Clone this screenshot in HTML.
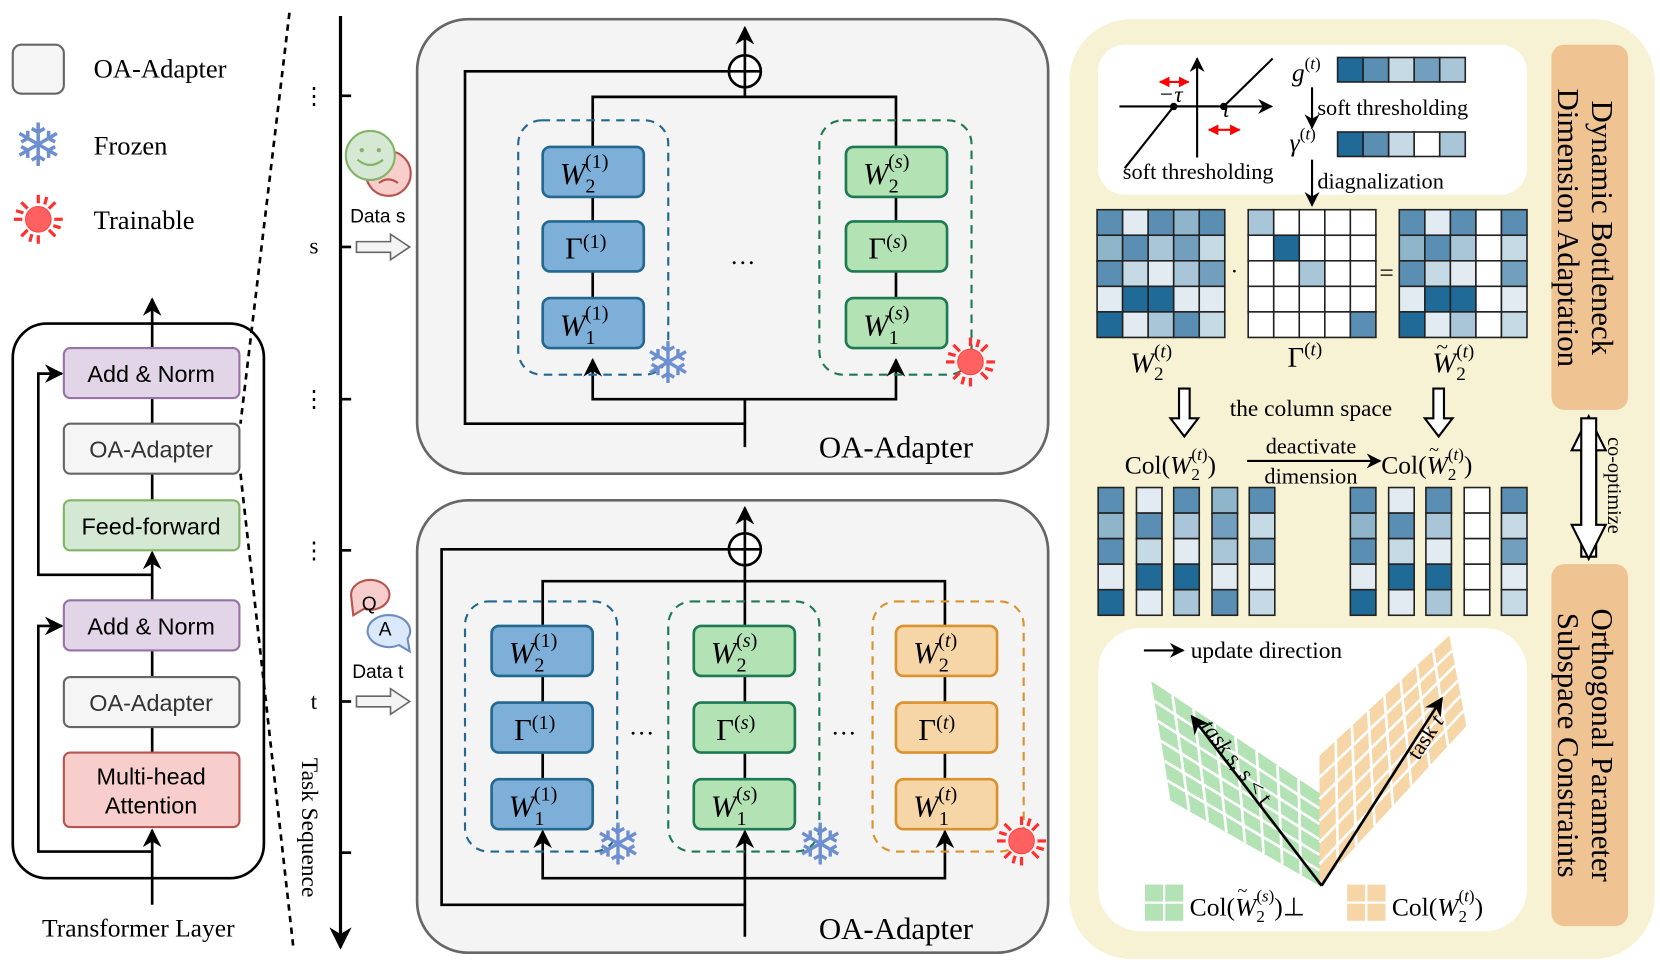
<!DOCTYPE html>
<html><head><meta charset="utf-8"><style>
html,body{margin:0;padding:0;background:#fff;}
svg{display:block;}
.sf{font-family:"Liberation Serif",serif;}
.ss{font-family:"Liberation Sans",sans-serif;}
.it{font-style:italic;}
</style></head><body>
<svg width="1660" height="974" viewBox="0 0 1560 915" preserveAspectRatio="none" xmlns="http://www.w3.org/2000/svg">
<defs>
<marker id="ah" viewBox="0 0 10 10" refX="9" refY="5" markerWidth="7" markerHeight="7" orient="auto-start-reverse"><path d="M0,0 L10,5 L0,10 L3,5 z" fill="#000"/></marker>
<marker id="rh" viewBox="0 0 10 10" refX="9" refY="5" markerWidth="5" markerHeight="5" orient="auto-start-reverse"><path d="M0,0 L10,5 L0,10 z" fill="#f00"/></marker>
<g id="sun"><circle r="12" fill="#ff6060" stroke="#f44" stroke-width="1"/><g stroke="#ff3030" stroke-width="3"><line x1="0" y1="-15" x2="0" y2="-23"/><line x1="0" y1="15" x2="0" y2="23"/><line x1="-15" y1="0" x2="-23" y2="0"/><line x1="15" y1="0" x2="23" y2="0"/><line x1="10" y1="-10" x2="16" y2="-16"/><line x1="-10" y1="-10" x2="-16" y2="-16"/><line x1="10" y1="10" x2="16" y2="16"/><line x1="-10" y1="10" x2="-16" y2="16"/><line x1="6" y1="-14" x2="8" y2="-21"/><line x1="-6" y1="14" x2="-8" y2="21"/><line x1="14" y1="6" x2="21" y2="8"/><line x1="-14" y1="-6" x2="-21" y2="-8"/></g></g>
</defs>

<!-- Legend -->
<rect x="12" y="42" width="48" height="46" rx="8" fill="#f5f5f5" stroke="#666" stroke-width="2"/>
<text x="88" y="73" class="sf" font-size="25">OA-Adapter</text>
<text x="36" y="156" font-size="56" fill="#6d8fd0" text-anchor="middle" font-family="DejaVu Sans">❄</text>
<text x="88" y="145" class="sf" font-size="25">Frozen</text>
<use href="#sun" x="36" y="206"/>
<text x="88" y="215" class="sf" font-size="25">Trainable</text>

<!-- Transformer layer -->
<rect x="12" y="304" width="236" height="521" rx="32" fill="none" stroke="#000" stroke-width="2.5"/>
<line x1="143" y1="850" x2="143" y2="780" stroke="#000" stroke-width="2.5" marker-end="url(#ah)"/>
<line x1="143" y1="707" x2="143" y2="683" stroke="#000" stroke-width="2.5"/>
<line x1="143" y1="636" x2="143" y2="611" stroke="#000" stroke-width="2.5"/>
<line x1="143" y1="564" x2="143" y2="519" stroke="#000" stroke-width="2.5" marker-end="url(#ah)"/>
<line x1="143" y1="470" x2="143" y2="445" stroke="#000" stroke-width="2.5"/>
<line x1="143" y1="398" x2="143" y2="374" stroke="#000" stroke-width="2.5"/>
<line x1="143" y1="327" x2="143" y2="281" stroke="#000" stroke-width="2.5" marker-end="url(#ah)"/>
<polyline points="143,540 36,540 36,351 58,351" fill="none" stroke="#000" stroke-width="2.5" marker-end="url(#ah)"/>
<polyline points="143,800 36,800 36,588 58,588" fill="none" stroke="#000" stroke-width="2.5" marker-end="url(#ah)"/>
<g class="ss" font-size="22" text-anchor="middle">
<rect x="60" y="327" width="165" height="47" rx="6" fill="#e1d5e7" stroke="#9673a6" stroke-width="2"/><text x="142" y="359">Add &amp; Norm</text>
<rect x="60" y="398" width="165" height="47" rx="6" fill="#f5f5f5" stroke="#666" stroke-width="2"/><text x="142" y="430" fill="#333">OA-Adapter</text>
<rect x="60" y="470" width="165" height="47" rx="6" fill="#d5e8d4" stroke="#82b366" stroke-width="2"/><text x="142" y="502">Feed-forward</text>
<rect x="60" y="564" width="165" height="47" rx="6" fill="#e1d5e7" stroke="#9673a6" stroke-width="2"/><text x="142" y="596">Add &amp; Norm</text>
<rect x="60" y="636" width="165" height="47" rx="6" fill="#f5f5f5" stroke="#666" stroke-width="2"/><text x="142" y="668" fill="#333">OA-Adapter</text>
<rect x="60" y="707" width="165" height="70" rx="6" fill="#f8cecc" stroke="#b85450" stroke-width="2"/><text x="142" y="737">Multi-head</text><text x="142" y="764">Attention</text>
</g>
<text x="130" y="880" class="sf" font-size="24" text-anchor="middle">Transformer Layer</text>
<line x1="272" y1="12" x2="226" y2="398" stroke="#000" stroke-width="2.5" stroke-dasharray="6,5"/>
<line x1="226" y1="445" x2="276" y2="893" stroke="#000" stroke-width="2.5" stroke-dasharray="6,5"/>

<!-- Timeline -->
<line x1="320" y1="15" x2="320" y2="890" stroke="#000" stroke-width="3" marker-end="url(#ah)"/>
<g stroke="#000" stroke-width="2.5"><line x1="320" y1="90" x2="330" y2="90"/><line x1="320" y1="232" x2="330" y2="232"/><line x1="320" y1="375" x2="330" y2="375"/><line x1="320" y1="517" x2="330" y2="517"/><line x1="320" y1="659" x2="330" y2="659"/><line x1="320" y1="801" x2="330" y2="801"/></g>
<g class="sf" font-size="22" text-anchor="middle"><text x="295" y="97">⋮</text><text x="295" y="382">⋮</text><text x="295" y="524">⋮</text><text x="295" y="238">s</text><text x="295" y="666">t</text></g>
<text transform="translate(284,712) rotate(90)" class="sf" font-size="22">Task Sequence</text>
<circle cx="365" cy="163" r="21" fill="#f8cecc" stroke="#b85450" stroke-width="2"/>
<path d="M356,172 q9,-7 18,0" fill="none" stroke="#b85450" stroke-width="2"/>
<circle cx="348" cy="146" r="23" fill="#d5e8d4" stroke="#82b366" stroke-width="2"/>
<circle cx="340" cy="141" r="2" fill="#82b366"/><circle cx="356" cy="141" r="2" fill="#82b366"/>
<path d="M336,150 q12,10 24,0" fill="none" stroke="#82b366" stroke-width="2"/>
<text x="355" y="209" class="ss" font-size="18" text-anchor="middle">Data s</text>
<path d="M335,227 h32 v-7 l18,12 l-18,12 v-7 h-32 z" fill="#f4f4f4" stroke="#666" stroke-width="1.5"/>
<path d="M330,560 a18,14 0 1 1 12,12 l-10,6 z" fill="#f8cecc" stroke="#b85450" stroke-width="2"/>
<text x="347" y="573" class="ss" font-size="18" text-anchor="middle">Q</text>
<path d="M383,600 a20,15 0 1 0 -8,6 l10,6 z" fill="#dae8fc" stroke="#6c8ebf" stroke-width="2"/>
<text x="362" y="597" class="ss" font-size="18" text-anchor="middle">A</text>
<text x="355" y="637" class="ss" font-size="18" text-anchor="middle">Data t</text>
<path d="M335,654 h32 v-7 l18,12 l-18,12 v-7 h-32 z" fill="#f4f4f4" stroke="#666" stroke-width="1.5"/>

<!-- Top adapter -->
<rect x="392" y="18" width="593" height="427" rx="48" fill="#f4f4f4" stroke="#666" stroke-width="2.5"/>
<g fill="none" stroke="#000" stroke-width="2.5">
<polyline points="700,420 700,398 437,398 437,67 685,67"/>
<polyline points="557,338 557,375 842,375 842,338" marker-start="url(#ah)" marker-end="url(#ah)"/>
<line x1="700" y1="375" x2="700" y2="398"/>
<polyline points="557,138 557,91 842,91 842,138"/>
<line x1="700" y1="91" x2="700" y2="82"/>
<line x1="700" y1="52" x2="700" y2="26" marker-end="url(#ah)"/>
<circle cx="700" cy="67" r="15" fill="#fff"/><line x1="700" y1="52" x2="700" y2="82"/><line x1="685" y1="67" x2="715" y2="67"/>
<line x1="557" y1="185" x2="557" y2="208"/><line x1="557" y1="255" x2="557" y2="280"/>
<line x1="842" y1="185" x2="842" y2="208"/><line x1="842" y1="255" x2="842" y2="280"/>
</g>
<rect x="487" y="113" width="141" height="239" rx="22" fill="none" stroke="#23688f" stroke-width="2" stroke-dasharray="8,6"/>
<rect x="770" y="113" width="143" height="239" rx="22" fill="none" stroke="#1e7a52" stroke-width="2" stroke-dasharray="8,6"/>
<g class="sf" font-size="29">
<rect x="510" y="138" width="95" height="47" rx="7" fill="#7eafd9" stroke="#23688f" stroke-width="2.5"/>
<text x="526" y="173"><tspan class="it">W</tspan><tspan font-size="19" dy="8">2</tspan><tspan font-size="19" dx="-10" dy="-23">(1)</tspan></text>
<rect x="510" y="208" width="95" height="47" rx="7" fill="#7eafd9" stroke="#23688f" stroke-width="2.5"/>
<text x="531" y="243">Γ<tspan font-size="19" dy="-10">(1)</tspan></text>
<rect x="510" y="280" width="95" height="47" rx="7" fill="#7eafd9" stroke="#23688f" stroke-width="2.5"/>
<text x="526" y="315"><tspan class="it">W</tspan><tspan font-size="19" dy="8">1</tspan><tspan font-size="19" dx="-10" dy="-23">(1)</tspan></text>
<rect x="795" y="138" width="95" height="47" rx="7" fill="#b3e3b5" stroke="#1e7a52" stroke-width="2.5"/>
<text x="811" y="173"><tspan class="it">W</tspan><tspan font-size="19" dy="8">2</tspan><tspan font-size="19" dx="-10" dy="-23">(<tspan class="it">s</tspan>)</tspan></text>
<rect x="795" y="208" width="95" height="47" rx="7" fill="#b3e3b5" stroke="#1e7a52" stroke-width="2.5"/>
<text x="816" y="243">Γ<tspan font-size="19" dy="-10">(<tspan class="it">s</tspan>)</tspan></text>
<rect x="795" y="280" width="95" height="47" rx="7" fill="#b3e3b5" stroke="#1e7a52" stroke-width="2.5"/>
<text x="811" y="315"><tspan class="it">W</tspan><tspan font-size="19" dy="8">1</tspan><tspan font-size="19" dx="-10" dy="-23">(<tspan class="it">s</tspan>)</tspan></text>
</g>
<text x="698" y="248" class="sf" font-size="24" text-anchor="middle">…</text>
<text x="628" y="360" font-size="54" fill="#6d8fd0" text-anchor="middle" font-family="DejaVu Sans">❄</text>
<use href="#sun" x="912" y="340"/>
<text x="842" y="430" class="sf" font-size="29" text-anchor="middle">OA-Adapter</text>

<!-- Bottom adapter -->
<rect x="392" y="470" width="593" height="425" rx="48" fill="#f4f4f4" stroke="#666" stroke-width="2.5"/>
<g fill="none" stroke="#000" stroke-width="2.5">
<polyline points="700,880 700,850 415,850 415,516 685,516"/>
<polyline points="510,781 510,825 888,825 888,781" marker-start="url(#ah)" marker-end="url(#ah)"/>
<line x1="700" y1="850" x2="700" y2="781" marker-end="url(#ah)"/>
<polyline points="510,588 510,546 888,546 888,588"/>
<line x1="700" y1="531" x2="700" y2="588"/>
<line x1="700" y1="501" x2="700" y2="477" marker-end="url(#ah)"/>
<circle cx="700" cy="516" r="15" fill="#fff"/><line x1="700" y1="501" x2="700" y2="531"/><line x1="685" y1="516" x2="715" y2="516"/>
<line x1="510" y1="635" x2="510" y2="660"/><line x1="510" y1="707" x2="510" y2="732"/>
<line x1="700" y1="635" x2="700" y2="660"/><line x1="700" y1="707" x2="700" y2="732"/>
<line x1="888" y1="635" x2="888" y2="660"/><line x1="888" y1="707" x2="888" y2="732"/>
</g>
<rect x="437" y="565" width="143" height="235" rx="22" fill="none" stroke="#23688f" stroke-width="2" stroke-dasharray="8,6"/>
<rect x="628" y="565" width="142" height="235" rx="22" fill="none" stroke="#1e7a52" stroke-width="2" stroke-dasharray="8,6"/>
<rect x="820" y="565" width="142" height="235" rx="22" fill="none" stroke="#d9922e" stroke-width="2" stroke-dasharray="8,6"/>
<g class="sf" font-size="29">
<rect x="462" y="588" width="95" height="47" rx="7" fill="#7eafd9" stroke="#23688f" stroke-width="2.5"/>
<text x="478" y="623"><tspan class="it">W</tspan><tspan font-size="19" dy="8">2</tspan><tspan font-size="19" dx="-10" dy="-23">(1)</tspan></text>
<rect x="462" y="660" width="95" height="47" rx="7" fill="#7eafd9" stroke="#23688f" stroke-width="2.5"/>
<text x="483" y="695">Γ<tspan font-size="19" dy="-10">(1)</tspan></text>
<rect x="462" y="732" width="95" height="47" rx="7" fill="#7eafd9" stroke="#23688f" stroke-width="2.5"/>
<text x="478" y="767"><tspan class="it">W</tspan><tspan font-size="19" dy="8">1</tspan><tspan font-size="19" dx="-10" dy="-23">(1)</tspan></text>
<rect x="652" y="588" width="95" height="47" rx="7" fill="#b3e3b5" stroke="#1e7a52" stroke-width="2.5"/>
<text x="668" y="623"><tspan class="it">W</tspan><tspan font-size="19" dy="8">2</tspan><tspan font-size="19" dx="-10" dy="-23">(<tspan class="it">s</tspan>)</tspan></text>
<rect x="652" y="660" width="95" height="47" rx="7" fill="#b3e3b5" stroke="#1e7a52" stroke-width="2.5"/>
<text x="673" y="695">Γ<tspan font-size="19" dy="-10">(<tspan class="it">s</tspan>)</tspan></text>
<rect x="652" y="732" width="95" height="47" rx="7" fill="#b3e3b5" stroke="#1e7a52" stroke-width="2.5"/>
<text x="668" y="767"><tspan class="it">W</tspan><tspan font-size="19" dy="8">1</tspan><tspan font-size="19" dx="-10" dy="-23">(<tspan class="it">s</tspan>)</tspan></text>
<rect x="842" y="588" width="95" height="47" rx="7" fill="#f6d6a7" stroke="#d9922e" stroke-width="2.5"/>
<text x="858" y="623"><tspan class="it">W</tspan><tspan font-size="19" dy="8">2</tspan><tspan font-size="19" dx="-10" dy="-23">(<tspan class="it">t</tspan>)</tspan></text>
<rect x="842" y="660" width="95" height="47" rx="7" fill="#f6d6a7" stroke="#d9922e" stroke-width="2.5"/>
<text x="863" y="695">Γ<tspan font-size="19" dy="-10">(<tspan class="it">t</tspan>)</tspan></text>
<rect x="842" y="732" width="95" height="47" rx="7" fill="#f6d6a7" stroke="#d9922e" stroke-width="2.5"/>
<text x="858" y="767"><tspan class="it">W</tspan><tspan font-size="19" dy="8">1</tspan><tspan font-size="19" dx="-10" dy="-23">(<tspan class="it">t</tspan>)</tspan></text>
</g>
<text x="603" y="690" class="sf" font-size="24" text-anchor="middle">…</text>
<text x="793" y="690" class="sf" font-size="24" text-anchor="middle">…</text>
<text x="581" y="812" font-size="54" fill="#6d8fd0" text-anchor="middle" font-family="DejaVu Sans">❄</text>
<text x="771" y="812" font-size="54" fill="#6d8fd0" text-anchor="middle" font-family="DejaVu Sans">❄</text>
<use href="#sun" x="960" y="790"/>
<text x="842" y="882" class="sf" font-size="29" text-anchor="middle">OA-Adapter</text>

<!-- Right panel -->
<rect x="1005" y="18" width="550" height="883" rx="58" fill="#f6f2d3"/>
<rect x="1032" y="42" width="403" height="141" rx="25" fill="#fff"/>
<rect x="1458" y="42" width="72" height="343" rx="12" fill="#f0c392"/>
<rect x="1458" y="530" width="72" height="340" rx="12" fill="#f0c392"/>
<g class="sf" font-size="29" text-anchor="middle">
<text transform="translate(1496,214) rotate(90)">Dynamic Bottleneck</text>
<text transform="translate(1464,214) rotate(90)">Dimension Adaptation</text>
<text transform="translate(1496,700) rotate(90)">Orthogonal Parameter</text>
<text transform="translate(1464,700) rotate(90)">Subspace Constraints</text>
</g>
<path d="M1486,523 v-100 h-9 l16,-32 l16,32 h-9 v100 z" fill="#fff" stroke="#000" stroke-width="2"/>
<path d="M1486,393 v100 h-9 l16,32 l16,-32 h-9 v-100 z" fill="#fff" stroke="#000" stroke-width="2"/>
<text transform="translate(1511,456) rotate(90)" class="sf" font-size="19" text-anchor="middle">co-optimize</text>

<!-- soft threshold plot -->
<g stroke="#000" stroke-width="2" fill="none">
<line x1="1052" y1="100" x2="1195" y2="100" marker-end="url(#ah)"/>
<line x1="1125" y1="148" x2="1125" y2="55" marker-end="url(#ah)"/>
<polyline points="1057,158 1103,100 1150,100 1196,55"/>
</g>
<circle cx="1103" cy="100" r="3.5"/><circle cx="1150" cy="100" r="3.5"/>
<line x1="1090" y1="77" x2="1117" y2="77" stroke="#f00" stroke-width="2" marker-start="url(#rh)" marker-end="url(#rh)"/>
<line x1="1136" y1="122" x2="1165" y2="122" stroke="#f00" stroke-width="2" marker-start="url(#rh)" marker-end="url(#rh)"/>
<text x="1100" y="96" class="sf it" font-size="22" text-anchor="middle">−τ</text>
<text x="1152" y="110" class="sf it" font-size="22" text-anchor="middle">τ</text>
<text x="1126" y="168" class="sf" font-size="21" text-anchor="middle">soft thresholding</text>
<text x="1214" y="76" class="sf" font-size="24"><tspan class="it">g</tspan><tspan font-size="16" dy="-11">(<tspan class="it">t</tspan>)</tspan></text>
<text x="1212" y="142" class="sf" font-size="24"><tspan class="it">γ</tspan><tspan font-size="16" dy="-11">(<tspan class="it">t</tspan>)</tspan></text>
<g stroke="#222" stroke-width="1.5">
<rect x="1257" y="54" width="24" height="23" fill="#1f6a96"/><rect x="1281" y="54" width="24" height="23" fill="#5a8eb2"/><rect x="1305" y="54" width="24" height="23" fill="#c5dae4"/><rect x="1329" y="54" width="24" height="23" fill="#729fbe"/><rect x="1353" y="54" width="24" height="23" fill="#a8c6d8"/>
<rect x="1257" y="124" width="24" height="23" fill="#1f6a96"/><rect x="1281" y="124" width="24" height="23" fill="#5a8eb2"/><rect x="1305" y="124" width="24" height="23" fill="#c5dae4"/><rect x="1329" y="124" width="24" height="23" fill="#fff"/><rect x="1353" y="124" width="24" height="23" fill="#a8c6d8"/>
</g>
<line x1="1233" y1="82" x2="1233" y2="120" stroke="#000" stroke-width="2" marker-end="url(#ah)"/>
<line x1="1233" y1="150" x2="1233" y2="193" stroke="#000" stroke-width="2" marker-end="url(#ah)"/>
<text x="1238" y="108" class="sf" font-size="21">soft thresholding</text>
<text x="1238" y="177" class="sf" font-size="21">diagnalization</text>

<!-- matrices -->
<g stroke="#222" stroke-width="1.5">
<g transform="translate(1031,197)">
<rect x="0" y="0" width="24" height="24" fill="#5a8eb2"/><rect x="24" y="0" width="24" height="24" fill="#e2eaf2"/><rect x="48" y="0" width="24" height="24" fill="#5a8eb2"/><rect x="72" y="0" width="24" height="24" fill="#8fb5cb"/><rect x="96" y="0" width="24" height="24" fill="#5a8eb2"/>
<rect x="0" y="24" width="24" height="24" fill="#8fb5cb"/><rect x="24" y="24" width="24" height="24" fill="#5a8eb2"/><rect x="48" y="24" width="24" height="24" fill="#a8c6d8"/><rect x="72" y="24" width="24" height="24" fill="#729fbe"/><rect x="96" y="24" width="24" height="24" fill="#c5dae4"/>
<rect x="0" y="48" width="24" height="24" fill="#5a8eb2"/><rect x="24" y="48" width="24" height="24" fill="#c5dae4"/><rect x="48" y="48" width="24" height="24" fill="#e2eaf2"/><rect x="72" y="48" width="24" height="24" fill="#a8c6d8"/><rect x="96" y="48" width="24" height="24" fill="#729fbe"/>
<rect x="0" y="72" width="24" height="24" fill="#e2eaf2"/><rect x="24" y="72" width="24" height="24" fill="#1f6a96"/><rect x="48" y="72" width="24" height="24" fill="#1f6a96"/><rect x="72" y="72" width="24" height="24" fill="#e2eaf2"/><rect x="96" y="72" width="24" height="24" fill="#e2eaf2"/>
<rect x="0" y="96" width="24" height="24" fill="#1f6a96"/><rect x="24" y="96" width="24" height="24" fill="#e2eaf2"/><rect x="48" y="96" width="24" height="24" fill="#a8c6d8"/><rect x="72" y="96" width="24" height="24" fill="#5a8eb2"/><rect x="96" y="96" width="24" height="24" fill="#c5dae4"/>
</g>
<g transform="translate(1173,197)" fill="#fff">
<rect x="0" y="0" width="24" height="24" fill="#a8c6d8"/><rect x="24" y="0" width="24" height="24"/><rect x="48" y="0" width="24" height="24"/><rect x="72" y="0" width="24" height="24"/><rect x="96" y="0" width="24" height="24"/>
<rect x="0" y="24" width="24" height="24"/><rect x="24" y="24" width="24" height="24" fill="#1f6a96"/><rect x="48" y="24" width="24" height="24"/><rect x="72" y="24" width="24" height="24"/><rect x="96" y="24" width="24" height="24"/>
<rect x="0" y="48" width="24" height="24"/><rect x="24" y="48" width="24" height="24"/><rect x="48" y="48" width="24" height="24" fill="#a8c6d8"/><rect x="72" y="48" width="24" height="24"/><rect x="96" y="48" width="24" height="24"/>
<rect x="0" y="72" width="24" height="24"/><rect x="24" y="72" width="24" height="24"/><rect x="48" y="72" width="24" height="24"/><rect x="72" y="72" width="24" height="24"/><rect x="96" y="72" width="24" height="24"/>
<rect x="0" y="96" width="24" height="24"/><rect x="24" y="96" width="24" height="24"/><rect x="48" y="96" width="24" height="24"/><rect x="72" y="96" width="24" height="24"/><rect x="96" y="96" width="24" height="24" fill="#5a8eb2"/>
</g>
<g transform="translate(1315,197)">
<rect x="0" y="0" width="24" height="24" fill="#5a8eb2"/><rect x="24" y="0" width="24" height="24" fill="#e2eaf2"/><rect x="48" y="0" width="24" height="24" fill="#5a8eb2"/><rect x="72" y="0" width="24" height="24" fill="#fff"/><rect x="96" y="0" width="24" height="24" fill="#5a8eb2"/>
<rect x="0" y="24" width="24" height="24" fill="#8fb5cb"/><rect x="24" y="24" width="24" height="24" fill="#5a8eb2"/><rect x="48" y="24" width="24" height="24" fill="#a8c6d8"/><rect x="72" y="24" width="24" height="24" fill="#fff"/><rect x="96" y="24" width="24" height="24" fill="#c5dae4"/>
<rect x="0" y="48" width="24" height="24" fill="#5a8eb2"/><rect x="24" y="48" width="24" height="24" fill="#c5dae4"/><rect x="48" y="48" width="24" height="24" fill="#e2eaf2"/><rect x="72" y="48" width="24" height="24" fill="#fff"/><rect x="96" y="48" width="24" height="24" fill="#729fbe"/>
<rect x="0" y="72" width="24" height="24" fill="#e2eaf2"/><rect x="24" y="72" width="24" height="24" fill="#1f6a96"/><rect x="48" y="72" width="24" height="24" fill="#1f6a96"/><rect x="72" y="72" width="24" height="24" fill="#fff"/><rect x="96" y="72" width="24" height="24" fill="#e2eaf2"/>
<rect x="0" y="96" width="24" height="24" fill="#1f6a96"/><rect x="24" y="96" width="24" height="24" fill="#e2eaf2"/><rect x="48" y="96" width="24" height="24" fill="#a8c6d8"/><rect x="72" y="96" width="24" height="24" fill="#fff"/><rect x="96" y="96" width="24" height="24" fill="#c5dae4"/>
</g>
<!-- column vectors -->
<g transform="translate(1032,458)">
<g><rect x="0" y="0" width="24" height="24" fill="#5a8eb2"/><rect x="0" y="24" width="24" height="24" fill="#8fb5cb"/><rect x="0" y="48" width="24" height="24" fill="#5a8eb2"/><rect x="0" y="72" width="24" height="24" fill="#e2eaf2"/><rect x="0" y="96" width="24" height="24" fill="#1f6a96"/></g>
<g transform="translate(36,0)"><rect x="0" y="0" width="24" height="24" fill="#e2eaf2"/><rect x="0" y="24" width="24" height="24" fill="#5a8eb2"/><rect x="0" y="48" width="24" height="24" fill="#c5dae4"/><rect x="0" y="72" width="24" height="24" fill="#1f6a96"/><rect x="0" y="96" width="24" height="24" fill="#e2eaf2"/></g>
<g transform="translate(71,0)"><rect x="0" y="0" width="24" height="24" fill="#5a8eb2"/><rect x="0" y="24" width="24" height="24" fill="#a8c6d8"/><rect x="0" y="48" width="24" height="24" fill="#e2eaf2"/><rect x="0" y="72" width="24" height="24" fill="#1f6a96"/><rect x="0" y="96" width="24" height="24" fill="#a8c6d8"/></g>
<g transform="translate(107,0)"><rect x="0" y="0" width="24" height="24" fill="#8fb5cb"/><rect x="0" y="24" width="24" height="24" fill="#729fbe"/><rect x="0" y="48" width="24" height="24" fill="#a8c6d8"/><rect x="0" y="72" width="24" height="24" fill="#e2eaf2"/><rect x="0" y="96" width="24" height="24" fill="#5a8eb2"/></g>
<g transform="translate(142,0)"><rect x="0" y="0" width="24" height="24" fill="#5a8eb2"/><rect x="0" y="24" width="24" height="24" fill="#c5dae4"/><rect x="0" y="48" width="24" height="24" fill="#729fbe"/><rect x="0" y="72" width="24" height="24" fill="#e2eaf2"/><rect x="0" y="96" width="24" height="24" fill="#c5dae4"/></g>
</g>
<g transform="translate(1269,458)">
<g><rect x="0" y="0" width="24" height="24" fill="#5a8eb2"/><rect x="0" y="24" width="24" height="24" fill="#8fb5cb"/><rect x="0" y="48" width="24" height="24" fill="#5a8eb2"/><rect x="0" y="72" width="24" height="24" fill="#e2eaf2"/><rect x="0" y="96" width="24" height="24" fill="#1f6a96"/></g>
<g transform="translate(36,0)"><rect x="0" y="0" width="24" height="24" fill="#e2eaf2"/><rect x="0" y="24" width="24" height="24" fill="#5a8eb2"/><rect x="0" y="48" width="24" height="24" fill="#c5dae4"/><rect x="0" y="72" width="24" height="24" fill="#1f6a96"/><rect x="0" y="96" width="24" height="24" fill="#e2eaf2"/></g>
<g transform="translate(71,0)"><rect x="0" y="0" width="24" height="24" fill="#5a8eb2"/><rect x="0" y="24" width="24" height="24" fill="#a8c6d8"/><rect x="0" y="48" width="24" height="24" fill="#e2eaf2"/><rect x="0" y="72" width="24" height="24" fill="#1f6a96"/><rect x="0" y="96" width="24" height="24" fill="#a8c6d8"/></g>
<g transform="translate(107,0)" fill="#fff"><rect x="0" y="0" width="24" height="24"/><rect x="0" y="24" width="24" height="24"/><rect x="0" y="48" width="24" height="24"/><rect x="0" y="72" width="24" height="24"/><rect x="0" y="96" width="24" height="24"/></g>
<g transform="translate(142,0)"><rect x="0" y="0" width="24" height="24" fill="#5a8eb2"/><rect x="0" y="24" width="24" height="24" fill="#c5dae4"/><rect x="0" y="48" width="24" height="24" fill="#729fbe"/><rect x="0" y="72" width="24" height="24" fill="#e2eaf2"/><rect x="0" y="96" width="24" height="24" fill="#c5dae4"/></g>
</g>
</g>
<text x="1160" y="262" class="sf" font-size="22" text-anchor="middle">·</text>
<text x="1303" y="264" class="sf" font-size="24" text-anchor="middle">=</text>
<text x="1062" y="350" class="sf" font-size="27"><tspan class="it">W</tspan><tspan font-size="18" dy="7">2</tspan><tspan font-size="18" dx="-9" dy="-21">(<tspan class="it">t</tspan>)</tspan></text>
<text x="1210" y="345" class="sf" font-size="27">Γ<tspan font-size="18" dy="-11">(<tspan class="it">t</tspan>)</tspan></text>
<text x="1346" y="350" class="sf" font-size="27"><tspan class="it">W</tspan><tspan font-size="18" dy="7">2</tspan><tspan font-size="18" dx="-9" dy="-21">(<tspan class="it">t</tspan>)</tspan></text>
<text x="1350" y="332" class="sf" font-size="20">~</text>

<path d="M1108,365 h10 v28 h8 l-13,17 l-13,-17 h8 z" fill="#fff" stroke="#000" stroke-width="2"/>
<path d="M1347,365 h10 v28 h8 l-13,17 l-13,-17 h8 z" fill="#fff" stroke="#000" stroke-width="2"/>
<text x="1232" y="391" class="sf" font-size="22" text-anchor="middle">the column space</text>
<text x="1057" y="445" class="sf" font-size="24">Col(<tspan class="it">W</tspan><tspan font-size="16" dy="6">2</tspan><tspan font-size="16" dx="-8" dy="-19">(<tspan class="it">t</tspan>)</tspan><tspan dy="13">)</tspan></text>
<line x1="1172" y1="433" x2="1297" y2="433" stroke="#000" stroke-width="2" marker-end="url(#ah)"/>
<text x="1232" y="426" class="sf" font-size="21" text-anchor="middle">deactivate</text>
<text x="1232" y="454" class="sf" font-size="21" text-anchor="middle">dimension</text>
<text x="1298" y="445" class="sf" font-size="24">Col(<tspan class="it">W</tspan><tspan font-size="16" dy="6">2</tspan><tspan font-size="16" dx="-8" dy="-19">(<tspan class="it">t</tspan>)</tspan><tspan dy="13">)</tspan></text>
<text x="1343" y="428" class="sf" font-size="17">~</text>

<!-- orthogonal subspace -->
<rect x="1032" y="590" width="403" height="285" rx="40" fill="#fff"/>
<line x1="1075" y1="611" x2="1112" y2="611" stroke="#000" stroke-width="2" marker-end="url(#ah)"/>
<text x="1119" y="618" class="sf" font-size="22">update direction</text>
<polygon points="1082,640 1240,745 1240,832 1100,752" fill="#b3e3b5"/>
<g stroke="#fff" stroke-width="2.5">
<line x1="1101.8" y1="653.1" x2="1117.5" y2="762"/><line x1="1121.5" y1="666.3" x2="1135" y2="772"/><line x1="1141.3" y1="679.4" x2="1152.5" y2="782"/><line x1="1161" y1="692.5" x2="1170" y2="792"/><line x1="1180.8" y1="705.6" x2="1187.5" y2="802"/><line x1="1200.5" y1="718.8" x2="1205" y2="812"/><line x1="1220.3" y1="731.9" x2="1222.5" y2="822"/>
<line x1="1085" y1="658.7" x2="1240" y2="759.5"/><line x1="1088" y1="677.3" x2="1240" y2="774"/><line x1="1091" y1="696" x2="1240" y2="788.5"/><line x1="1094" y1="714.7" x2="1240" y2="803"/><line x1="1097" y1="733.3" x2="1240" y2="817.5"/>
</g>
<polygon points="1240,710 1362,597 1378,682 1240,832" fill="#f6d6a7"/>
<g stroke="#fff" stroke-width="2.5">
<line x1="1255.3" y1="695.9" x2="1257.3" y2="813.3"/><line x1="1270.5" y1="681.8" x2="1274.5" y2="794.5"/><line x1="1285.8" y1="667.6" x2="1291.8" y2="775.8"/><line x1="1301" y1="653.5" x2="1309" y2="757"/><line x1="1316.3" y1="639.4" x2="1326.3" y2="738.3"/><line x1="1331.5" y1="625.3" x2="1343.5" y2="719.5"/><line x1="1346.8" y1="611.1" x2="1360.8" y2="700.8"/>
<line x1="1240" y1="730.3" x2="1364.7" y2="611.2"/><line x1="1240" y1="750.7" x2="1367.3" y2="625.3"/><line x1="1240" y1="771" x2="1370" y2="639.5"/><line x1="1240" y1="791.3" x2="1372.7" y2="653.7"/><line x1="1240" y1="811.7" x2="1375.3" y2="667.8"/>
</g>
<line x1="1242" y1="832" x2="1120" y2="673" stroke="#000" stroke-width="2.5" marker-end="url(#ah)"/>
<line x1="1242" y1="832" x2="1355" y2="656" stroke="#000" stroke-width="2.5" marker-end="url(#ah)"/>
<text transform="translate(1128,683) rotate(52)" class="sf it" font-size="21">task <tspan font-style="normal">s, s &lt; t</tspan></text>
<text transform="translate(1333,715) rotate(-57)" class="sf" font-size="21">task <tspan class="it">t</tspan></text>
<g fill="#b3e3b5" stroke="#fff" stroke-width="2"><rect x="1075" y="830" width="19" height="18"/><rect x="1094" y="830" width="19" height="18"/><rect x="1075" y="848" width="19" height="18"/><rect x="1094" y="848" width="19" height="18"/></g>
<g fill="#f6d6a7" stroke="#fff" stroke-width="2"><rect x="1265" y="830" width="19" height="18"/><rect x="1284" y="830" width="19" height="18"/><rect x="1265" y="848" width="19" height="18"/><rect x="1284" y="848" width="19" height="18"/></g>
<text x="1118" y="860" class="sf" font-size="24">Col(<tspan class="it">W</tspan><tspan font-size="16" dy="6">2</tspan><tspan font-size="16" dx="-8" dy="-19">(<tspan class="it">s</tspan>)</tspan><tspan dy="13">)⊥</tspan></text>
<text x="1163" y="842" class="sf" font-size="17">~</text>
<text x="1308" y="860" class="sf" font-size="24">Col(<tspan class="it">W</tspan><tspan font-size="16" dy="6">2</tspan><tspan font-size="16" dx="-8" dy="-19">(<tspan class="it">t</tspan>)</tspan><tspan dy="13">)</tspan></text>
</svg>
</body></html>
